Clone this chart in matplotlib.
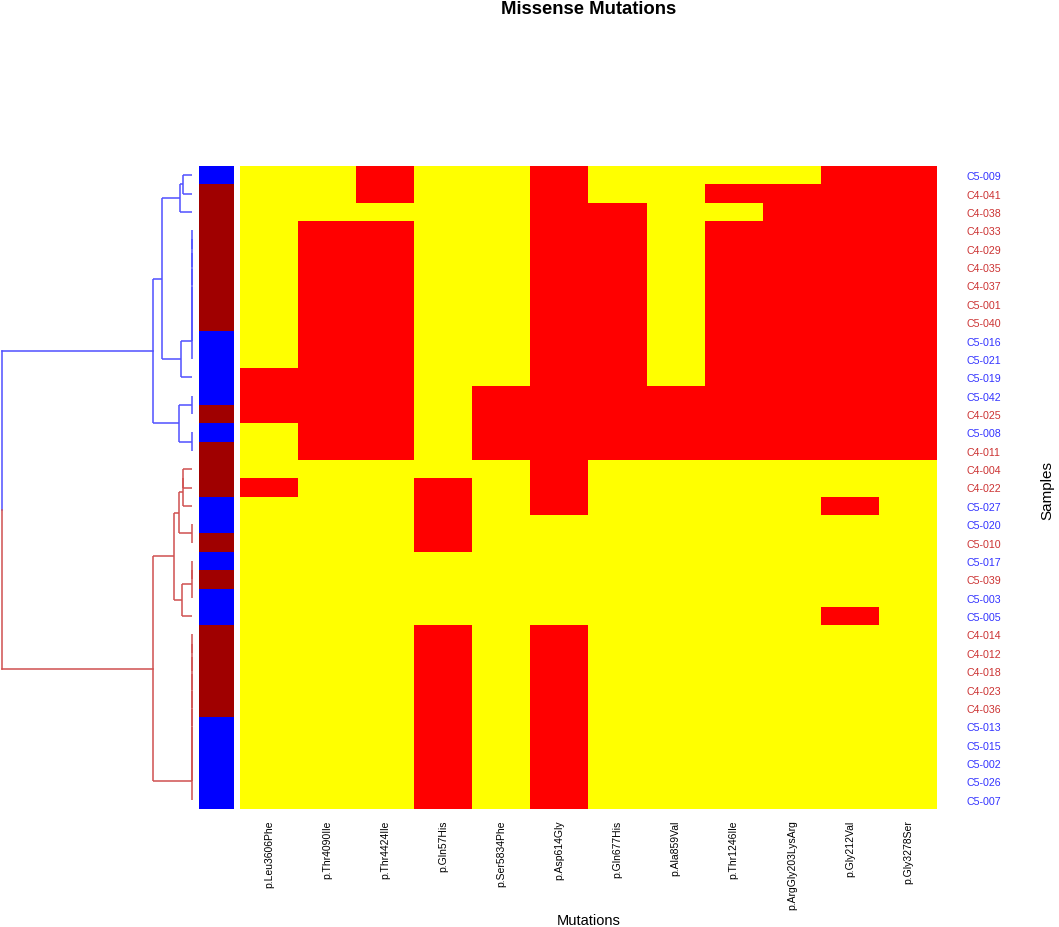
import numpy as np
import matplotlib
matplotlib.use("Agg")
import matplotlib.pyplot as plt
from matplotlib.colors import ListedColormap

plt.rcParams['font.family'] = ['Liberation Sans', 'DejaVu Sans']

# mutation columns
mutations = ["p.Leu3606Phe", "p.Thr4090Ile", "p.Thr4424Ile", "p.Gln57His",
             "p.Ser5834Phe", "p.Asp614Gly", "p.Gln677His", "p.Ala859Val",
             "p.Thr1246Ile", "p.ArgGly203LysArg", "p.Gly212Val", "p.Gly3278Ser"]

# samples in dendrogram order (top to bottom)
samples = ["C5-009", "C4-041", "C4-038", "C4-033", "C4-029", "C4-035", "C4-037",
           "C5-001", "C5-040", "C5-016", "C5-021", "C5-019", "C5-042", "C4-025",
           "C5-008", "C4-011", "C4-004", "C4-022", "C5-027", "C5-020", "C5-010",
           "C5-017", "C5-039", "C5-003", "C5-005", "C4-014", "C4-012", "C4-018",
           "C4-023", "C4-036", "C5-013", "C5-015", "C5-002", "C5-026", "C5-007"]

# side colour group per sample (0 = blue, 1 = dark red)
group = [0, 1, 1, 1, 1, 1, 1, 1, 1, 0, 0, 0, 0, 1, 0, 1, 1, 1, 0, 0, 1,
         0, 1, 0, 0, 1, 1, 1, 1, 1, 0, 0, 0, 0, 0]

# 1 = mutation present (red), 0 = absent (yellow)
mut = np.array([
    [0, 0, 1, 0, 0, 1, 0, 0, 0, 0, 1, 1],  # C5-009
    [0, 0, 1, 0, 0, 1, 0, 0, 1, 1, 1, 1],  # C4-041
    [0, 0, 0, 0, 0, 1, 1, 0, 0, 1, 1, 1],  # C4-038
    [0, 1, 1, 0, 0, 1, 1, 0, 1, 1, 1, 1],  # C4-033
    [0, 1, 1, 0, 0, 1, 1, 0, 1, 1, 1, 1],  # C4-029
    [0, 1, 1, 0, 0, 1, 1, 0, 1, 1, 1, 1],  # C4-035
    [0, 1, 1, 0, 0, 1, 1, 0, 1, 1, 1, 1],  # C4-037
    [0, 1, 1, 0, 0, 1, 1, 0, 1, 1, 1, 1],  # C5-001
    [0, 1, 1, 0, 0, 1, 1, 0, 1, 1, 1, 1],  # C5-040
    [0, 1, 1, 0, 0, 1, 1, 0, 1, 1, 1, 1],  # C5-016
    [0, 1, 1, 0, 0, 1, 1, 0, 1, 1, 1, 1],  # C5-021
    [1, 1, 1, 0, 0, 1, 1, 0, 1, 1, 1, 1],  # C5-019
    [1, 1, 1, 0, 1, 1, 1, 1, 1, 1, 1, 1],  # C5-042
    [1, 1, 1, 0, 1, 1, 1, 1, 1, 1, 1, 1],  # C4-025
    [0, 1, 1, 0, 1, 1, 1, 1, 1, 1, 1, 1],  # C5-008
    [0, 1, 1, 0, 1, 1, 1, 1, 1, 1, 1, 1],  # C4-011
    [0, 0, 0, 0, 0, 1, 0, 0, 0, 0, 0, 0],  # C4-004
    [1, 0, 0, 1, 0, 1, 0, 0, 0, 0, 0, 0],  # C4-022
    [0, 0, 0, 1, 0, 1, 0, 0, 0, 0, 1, 0],  # C5-027
    [0, 0, 0, 1, 0, 0, 0, 0, 0, 0, 0, 0],  # C5-020
    [0, 0, 0, 1, 0, 0, 0, 0, 0, 0, 0, 0],  # C5-010
    [0, 0, 0, 0, 0, 0, 0, 0, 0, 0, 0, 0],  # C5-017
    [0, 0, 0, 0, 0, 0, 0, 0, 0, 0, 0, 0],  # C5-039
    [0, 0, 0, 0, 0, 0, 0, 0, 0, 0, 0, 0],  # C5-003
    [0, 0, 0, 0, 0, 0, 0, 0, 0, 0, 1, 0],  # C5-005
    [0, 0, 0, 1, 0, 1, 0, 0, 0, 0, 0, 0],  # C4-014
    [0, 0, 0, 1, 0, 1, 0, 0, 0, 0, 0, 0],  # C4-012
    [0, 0, 0, 1, 0, 1, 0, 0, 0, 0, 0, 0],  # C4-018
    [0, 0, 0, 1, 0, 1, 0, 0, 0, 0, 0, 0],  # C4-023
    [0, 0, 0, 1, 0, 1, 0, 0, 0, 0, 0, 0],  # C4-036
    [0, 0, 0, 1, 0, 1, 0, 0, 0, 0, 0, 0],  # C5-013
    [0, 0, 0, 1, 0, 1, 0, 0, 0, 0, 0, 0],  # C5-015
    [0, 0, 0, 1, 0, 1, 0, 0, 0, 0, 0, 0],  # C5-002
    [0, 0, 0, 1, 0, 1, 0, 0, 0, 0, 0, 0],  # C5-026
    [0, 0, 0, 1, 0, 1, 0, 0, 0, 0, 0, 0],  # C5-007
])


# dendrogram: nodes are (left, right, height), leaves are row indices
def chain(leaves, h=0.0):
    node = leaves[0]
    for lf in leaves[1:]:
        node = (node, lf, h)
    return node


A1 = ((0, 1, 0.245), 2, 0.31)
A2 = (chain(list(range(3, 11))), 11, 0.28)
A = (A1, A2, 0.78)
B = ((12, 13, 0.0), (14, 15, 0.0), 0.33)
blue_tree = (A, B, 1.03)

R1a = ((((16, 17, 0.23), 18, 0.23)), (19, 20, 0.0), 0.35)
R1b = (chain([21, 22, 23]), 24, 0.255)
R1 = (R1a, R1b, 0.47)
R2 = chain(list(range(25, 35)))
red_tree = (R1, R2, 1.03)

root_height = 5.0

blue_line = '#5050FF'
red_line = '#D05050'
blue_fill = '#0000FF'
red_fill = '#A00000'
blue_txt = '#3333FF'
red_txt = '#CC3333'


def draw(ax, node, color):
    # returns (y position, height) of node
    if not isinstance(node, tuple):
        return float(node), 0.0
    left, right, h = node
    yl, hl = draw(ax, left, color)
    yr, hr = draw(ax, right, color)
    ax.plot([hl, h], [yl, yl], color=color, lw=1.1, solid_capstyle='butt')
    ax.plot([hr, h], [yr, yr], color=color, lw=1.1, solid_capstyle='butt')
    ax.plot([h, h], [yl, yr], color=color, lw=1.1, solid_capstyle='butt')
    return (yl + yr) / 2, h


fig = plt.figure(figsize=(10.59, 9.28), dpi=100)
W, H = 1059, 928


def box(x0, y0, x1, y1):
    return [x0 / W, 1 - y1 / H, (x1 - x0) / W, (y1 - y0) / H]


nrow = len(samples)

# dendrogram
ax_d = fig.add_axes(box(2, 167, 192, 810))
yb, hb = draw(ax_d, blue_tree, blue_line)
yr, hr = draw(ax_d, red_tree, red_line)
ymid = (yb + yr) / 2
ax_d.plot([hb, root_height], [yb, yb], color=blue_line, lw=1.1)
ax_d.plot([hr, root_height], [yr, yr], color=red_line, lw=1.1)
ax_d.plot([root_height, root_height], [yb, ymid], color=blue_line, lw=1.1)
ax_d.plot([root_height, root_height], [ymid, yr], color=red_line, lw=1.1)
ax_d.set_xlim(root_height, 0)
ax_d.set_ylim(nrow - 0.5, -0.5)
ax_d.axis('off')
for ln in ax_d.lines:
    ln.set_clip_on(False)

# side colour bar
ax_s = fig.add_axes(box(199, 167, 234, 810))
ax_s.imshow(np.array(group).reshape(-1, 1), cmap=ListedColormap([blue_fill, red_fill]),
            aspect='auto', interpolation='nearest', vmin=0, vmax=1)
ax_s.axis('off')

# heatmap
ax = fig.add_axes(box(240, 167, 937, 810))
ax.imshow(mut, cmap=ListedColormap(['#FFFF00', '#FF0000']), aspect='auto',
          interpolation='nearest', vmin=0, vmax=1)
for s in ax.spines.values():
    s.set_visible(False)
ax.set_xticks(range(len(mutations)))
ax.set_xticklabels(mutations, rotation=90, fontsize=7.5)
ax.yaxis.tick_right()
ax.set_yticks(range(nrow))
ax.set_yticklabels(samples, fontsize=7.7)
for lbl, g in zip(ax.get_yticklabels(), group):
    lbl.set_color(red_txt if g else blue_txt)
ax.tick_params(axis='x', length=0, pad=7.5)
ax.tick_params(axis='y', length=0, pad=21.5)

fig.text(589 / W, 1 - 10 / H, "Missense Mutations", ha='center', va='center',
         fontsize=13.3, fontweight='bold')
fig.text(589 / W, 1 - 921 / H, "Mutations", ha='center', va='center', fontsize=10.5)
fig.text(1047 / W, 1 - 491 / H, "Samples", ha='center', va='center',
         rotation=90, fontsize=11)

fig.savefig("out.png", dpi=100)
